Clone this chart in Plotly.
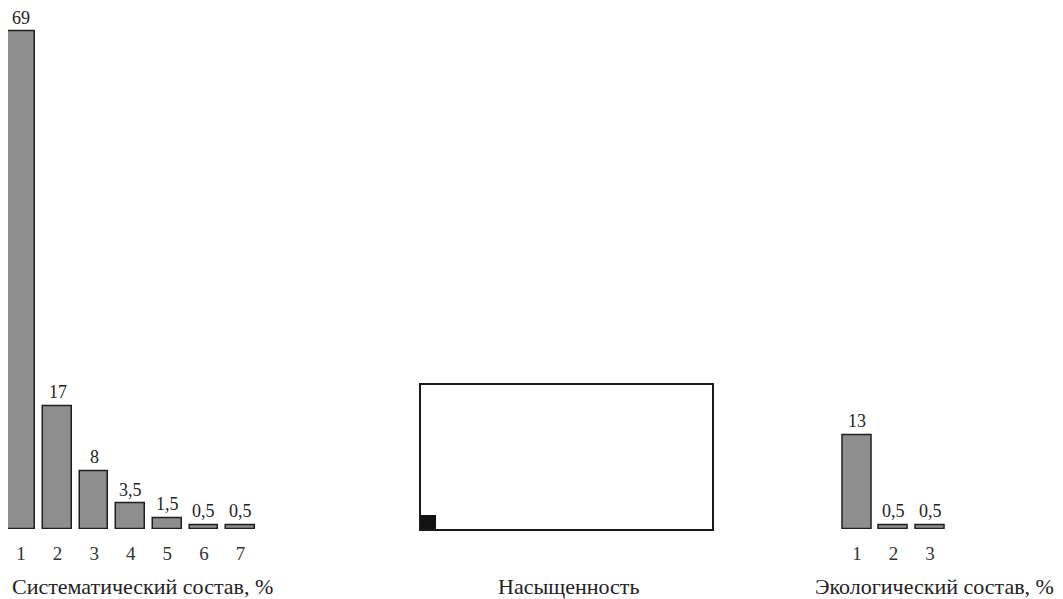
import plotly.graph_objects as go

# Data
sys_categories = [1, 2, 3, 4, 5, 6, 7]
sys_values = [69, 17, 8, 3.5, 1.5, 0.5, 0.5]
eco_categories = [1, 2, 3]
eco_values = [13, 0.5, 0.5]
sat_x = [0.5]
sat_values = [2]
titles = ["Систематический состав, %", "Насыщенность", "Экологический состав, %"]

W, H = 1063, 599
OFF = 8  # page body margin compensation
FONT = "Liberation Serif, Times New Roman, serif"
BAR_FILL = "#8e8e8e"
BAR_LINE = "#1e1e1e"

def fmt(v):
    s = ("%g" % v)
    return s.replace(".", ",")

def px(x):
    return max(0.0, (x - OFF) / W)

def py(y):
    return 1 - (y - OFF) / H

fig = go.Figure()

fig.add_trace(go.Bar(x=sys_categories, y=sys_values, xaxis="x", yaxis="y",
                     width=0.78, marker=dict(color=BAR_FILL, line=dict(color=BAR_LINE, width=1.5)),
                     showlegend=False, hoverinfo="skip"))
fig.add_trace(go.Bar(x=eco_categories, y=eco_values, xaxis="x3", yaxis="y",
                     width=0.8, marker=dict(color=BAR_FILL, line=dict(color=BAR_LINE, width=1.5)),
                     showlegend=False, hoverinfo="skip"))
fig.add_trace(go.Bar(x=sat_x, y=sat_values, xaxis="x2", yaxis="y2",
                     width=1.0, marker=dict(color="#111111", line=dict(width=0)),
                     showlegend=False, hoverinfo="skip"))

lblfont = dict(family=FONT, size=18, color="#222")
annotations = []
for c, v in zip(sys_categories, sys_values):
    annotations.append(dict(x=c, y=v, xref="x", yref="y", text=fmt(v), showarrow=False,
                            yanchor="bottom", yshift=3, borderpad=0, font=lblfont))
for c, v in zip(eco_categories, eco_values):
    annotations.append(dict(x=c, y=v, xref="x3", yref="y", text=fmt(v), showarrow=False,
                            yanchor="bottom", yshift=3, borderpad=0, font=lblfont))

title_x = [142, 568, 934]
for t, tx in zip(titles, title_x):
    annotations.append(dict(x=px(tx), y=py(586), xref="paper", yref="paper", text=t,
                            showarrow=False, xanchor="center", yanchor="middle",
                            font=dict(family=FONT, size=22, color="#222")))

base = py(529)
px_per_unit = 7.21
y_top = base + 70 * px_per_unit / H
y2_top = base + 20 * px_per_unit / H

pitch = 36.58
left_start = 8.0
range_lo = 1 - (21 - left_start) / pitch

tickfont = dict(family=FONT, size=19, color="#333")

fig.update_layout(
    width=W, height=H,
    margin=dict(l=0, r=0, t=0, b=0),
    paper_bgcolor="white", plot_bgcolor="white",
    bargap=0,
    annotations=annotations,
    xaxis=dict(domain=[px(left_start), px(258.8)], range=[range_lo, 7.5], tickvals=sys_categories,
               ticktext=[str(c) for c in sys_categories], showgrid=False, zeroline=False,
               showline=False, ticks="", ticklabelstandoff=11, tickfont=tickfont, fixedrange=True),
    xaxis3=dict(domain=[px(838.75), px(948.25)], range=[0.5, 3.5], tickvals=eco_categories,
                ticktext=[str(c) for c in eco_categories], showgrid=False, zeroline=False,
                showline=False, ticks="", ticklabelstandoff=11, tickfont=tickfont, anchor="y"),
    yaxis=dict(domain=[base, y_top], range=[0, 70], visible=False),
    xaxis2=dict(domain=[px(421), px(712)], range=[0, 20], showgrid=False, zeroline=False,
                showticklabels=False, showline=True, mirror=True, linecolor="#1a1a1a",
                linewidth=2, anchor="y2"),
    yaxis2=dict(domain=[base, y2_top], range=[0, 20], showgrid=False, zeroline=False,
                showticklabels=False, showline=True, mirror=True, linecolor="#1a1a1a",
                linewidth=2, anchor="x2"),
)

fig.write_html("out.html")
